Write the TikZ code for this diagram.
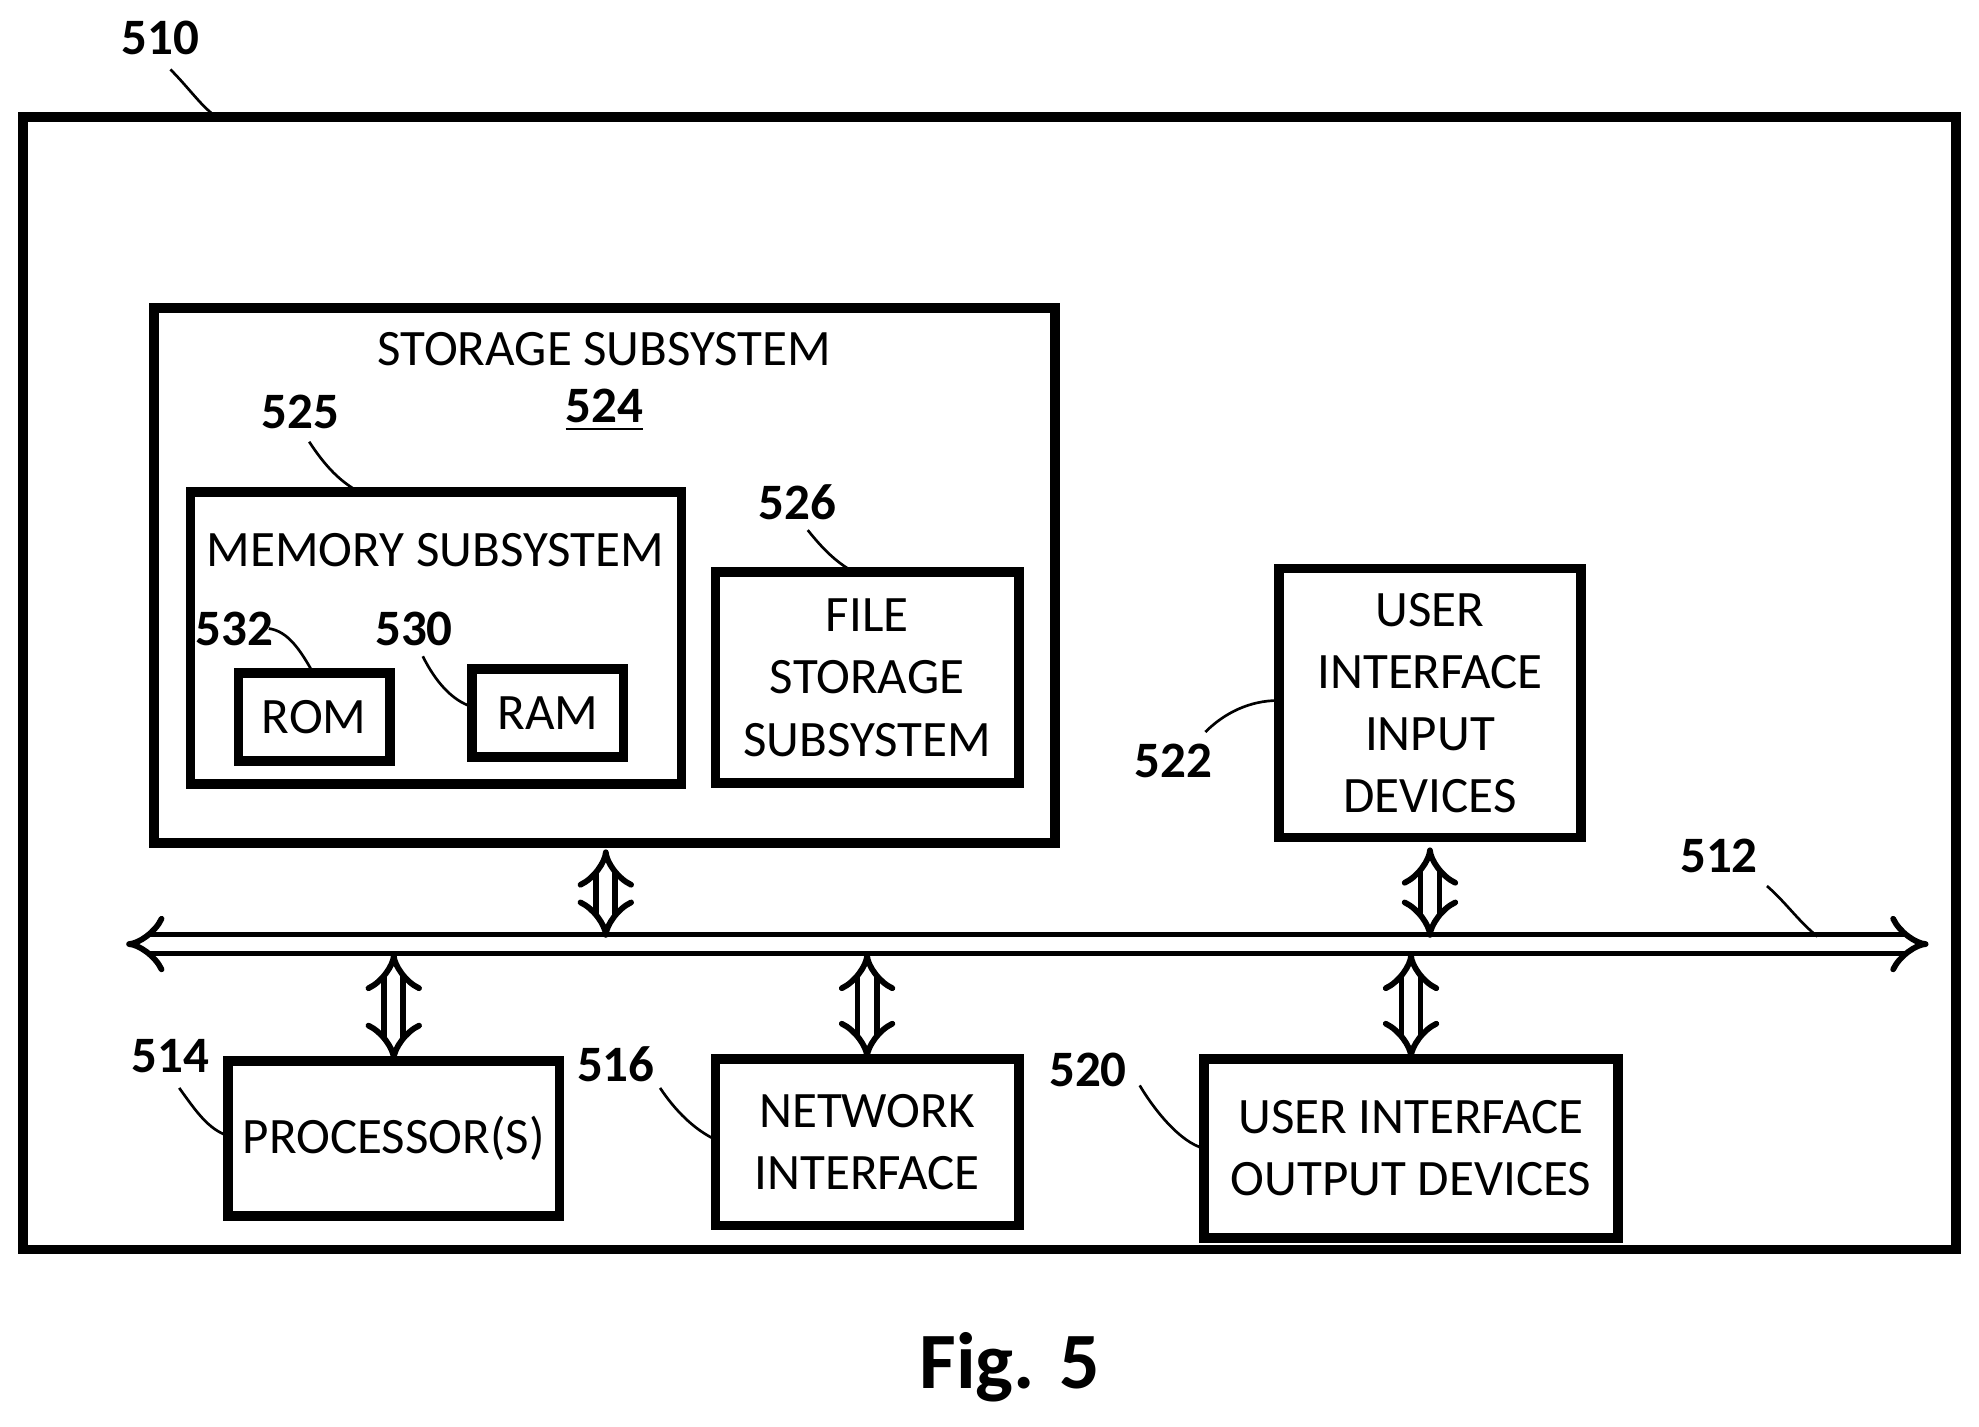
\documentclass[tikz,border=0pt]{standalone}
\usepackage{fontspec}
\setmainfont{Carlito}
\usetikzlibrary{arrows.meta}
\begin{document}
\begin{tikzpicture}
    [x=0.01cm,y=-0.01cm,
     box/.style={draw,line width=2.2pt,align=center,font=\fontsize{11.5}{14}\selectfont},
     lbl/.style={font=\bfseries\fontsize{11.5}{14}\selectfont},
     lead/.style={line width=0.6pt},
     bus/.style={double,double distance=3pt,line width=1.3pt,{Implies}-{Implies}}]
    \useasboundingbox (0,0) rectangle (1568,1130);
    % frames
    \draw[line width=2.2pt] (18,93) rectangle (1550,990);
    \draw[line width=2.2pt] (122,244) rectangle (836,668);
    \node[font=\fontsize{11.5}{14}\selectfont] (storname) at (479,277) {STORAGE SUBSYSTEM};
    \node[lbl] (s524) at (479,325) {\underline{524}};
    \draw[line width=2.2pt] (151,390) rectangle (540,621);
    \node[font=\fontsize{11.5}{14}\selectfont] (memname) at (345,436) {MEMORY SUBSYSTEM};
    \node[box,minimum width=1.2cm,minimum height=0.7cm] (rom) at (249,568) {ROM};
    \node[box,minimum width=1.2cm,minimum height=0.7cm] (ram) at (434,565) {RAM};
    \node[box,minimum width=2.4cm,minimum height=1.67cm] (file) at (687,537) {FILE\\STORAGE\\SUBSYSTEM};
    \node[box,minimum width=2.39cm,minimum height=2.13cm] (uiin) at (1133,557) {USER\\INTERFACE\\INPUT\\DEVICES};
    \node[box,minimum width=2.62cm,minimum height=1.23cm] (proc) at (312,902) {PROCESSOR(S)};
    \node[box,minimum width=2.4cm,minimum height=1.32cm] (net) at (687,905) {NETWORK\\INTERFACE};
    \node[box,minimum width=3.28cm,minimum height=1.42cm] (uiout) at (1118,910) {USER INTERFACE\\OUTPUT DEVICES};
    % bus
    \coordinate (busl) at (100,748);
    \coordinate (busr) at (1528,748);
    \draw[bus] (busl) -- (busr);
    \draw[bus] (480,673) -- (480,743);
    \draw[bus] (uiin.south) ++(0,4) -- (1133,743);
    \draw[bus] (312,755) -- ([yshift=-0.04cm]proc.north);
    \draw[bus] (687,755) -- ([yshift=-0.04cm]net.north);
    \draw[bus] (1118,755) -- ([yshift=-0.04cm]uiout.north);
    % reference labels
    \node[lbl] (l510) at (127,30) {510};
    \node[lbl] (l525) at (238,326) {525};
    \node[lbl] (l532) at (186,498) {532};
    \node[lbl] (l530) at (328,498) {530};
    \node[lbl] (l526) at (632,398) {526};
    \node[lbl] (l522) at (930,603) {522};
    \node[lbl] (l512) at (1362,678) {512};
    \node[lbl] (l514) at (135,837) {514};
    \node[lbl] (l516) at (488,843) {516};
    \node[lbl] (l520) at (862,848) {520};
    \draw[lead] (135,55) .. controls (150,70) and (160,85) .. (172,93);
    \draw[lead] (245,350) .. controls (258,370) and (270,382) .. (285,390);
    \draw[lead] (213,498) .. controls (228,500) and (238,515) .. (248,533);
    \draw[lead] (335,520) .. controls (345,540) and (358,555) .. (374,560);
    \draw[lead] (640,420) .. controls (652,435) and (662,445) .. (676,453);
    \draw[lead] (955,580) .. controls (970,565) and (990,555) .. (1013,555);
    \draw[lead] (1400,702) .. controls (1415,715) and (1425,730) .. (1440,742);
    \draw[lead] (142,862) .. controls (155,880) and (165,895) .. (181,900);
    \draw[lead] (523,862) .. controls (535,880) and (550,895) .. (567,903);
    \draw[lead] (903,860) .. controls (915,880) and (935,905) .. (954,910);
    \node[font=\bfseries\fontsize{18}{20}\selectfont] (fig) at (800,1083) {Fig. 5};
\end{tikzpicture}
\end{document}
